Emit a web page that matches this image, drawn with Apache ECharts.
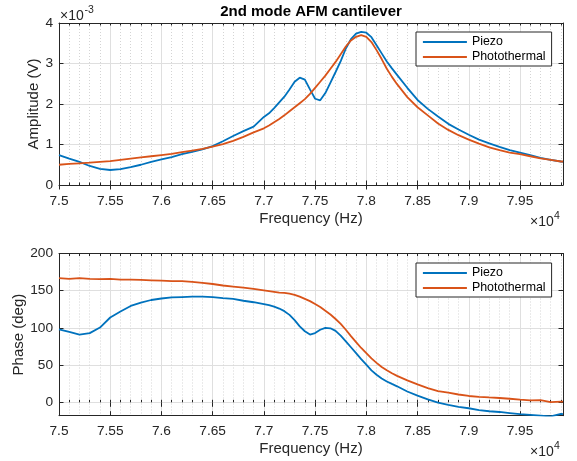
<!DOCTYPE html>
<html><head><meta charset="utf-8">
<script src="https://cdn.jsdelivr.net/npm/echarts@6/dist/echarts.min.js"></script>
<style>html,body{margin:0;padding:0;background:#fff}#c{width:577px;height:461px}</style>
</head><body><div id="c"></div>
<script>
// ---- data (frequency in Hz) ----
const freq = [75000,75100,75200,75300,75400,75500,75600,75700,75800,75900,76000,76100,76200,76300,76400,76500,76600,76700,76800,76900,77000,
  77050,77100,77150,77200,77250,77300,77350,77400,77450,77500,77550,77600,77650,77700,77750,77800,77850,77900,77950,78000,78050,78100,78150,78200,78250,78300,
  78400,78500,78600,78700,78800,78900,79000,79100,79200,79300,79400,79500,79600,79700,79800,79900,79920];
// amplitude in units of 1e-3 V
const ampPiezo = [0.74,0.65,0.57,0.47,0.40,0.37,0.39,0.44,0.50,0.57,0.63,0.69,0.76,0.82,0.88,0.96,1.08,1.21,1.33,1.44,1.68,
  1.77,1.90,2.04,2.18,2.36,2.55,2.65,2.60,2.36,2.13,2.09,2.27,2.53,2.79,3.06,3.37,3.60,3.74,3.78,3.76,3.65,3.45,3.25,3.05,2.88,2.72,
  2.40,2.10,1.88,1.69,1.51,1.37,1.24,1.12,1.03,0.94,0.86,0.80,0.74,0.67,0.62,0.58,0.57];
const ampPhoto = [0.50,0.52,0.535,0.55,0.57,0.59,0.62,0.65,0.68,0.71,0.74,0.77,0.81,0.85,0.89,0.95,1.01,1.09,1.19,1.30,1.40,
  1.47,1.55,1.63,1.72,1.82,1.92,2.02,2.12,2.25,2.40,2.55,2.70,2.87,3.04,3.23,3.42,3.57,3.66,3.70,3.66,3.53,3.33,3.11,2.87,2.67,2.49,
  2.17,1.92,1.72,1.52,1.36,1.23,1.12,1.02,0.93,0.86,0.80,0.76,0.71,0.66,0.62,0.58,0.58];
// phase in degrees
const phasePiezo = [98,94.5,91,93,100.5,114,122,129.5,134,137.5,139.5,141,141.5,142,142,141.5,140,139,136.5,134.5,132,
  130.5,128.5,126,122.5,117.5,110.5,102,95.5,91,93,97.5,100,99.5,96,89.5,82,74,66,58,50.5,43,37,32,28,24.7,21.5,
  14.5,9,4,-0.5,-3.5,-6,-8,-10.5,-12,-13,-14.5,-16,-17,-18,-19,-15.5,-16];
const phasePhoto = [167,166,167,166,165.5,166,165,165,164.5,164,163.5,163,163,162,160.5,159,157,155.5,154,152.5,150.5,
  149.5,148.5,147.5,147,146,144.5,142,139,136,132,128,123,118,112,105.5,97.5,89,81,73,66,59,53,47.5,43,39,35.5,
  29.5,24,19,15,13,10.5,8.5,7.3,6.5,5.8,4.8,3.5,2.5,2.8,0.3,1,1];
const seriesNames = ['Piezo','Photothermal'];
const xTicks = [75000,75500,76000,76500,77000,77500,78000,78500,79000,79500];
const ampTicks = [0,1,2,3,4];
const phaseTicks = [0,50,100,150,200];
const titleText = '2nd mode AFM cantilever';
const xName = 'Frequency (Hz)';
const ampName = 'Amplitude (V)';
const phaseName = 'Phase (deg)';

// ---- style ----
const FONT = '"Liberation Sans", Arial, Helvetica, sans-serif';
const AX = '#262626';
const GMAJ = '#dfdfdf';
const GMIN = '#d4d4d4';
const BLUE = '#0072BD', ORANGE = '#D95319';
const LW = 1.8;
const XMIN = 75000, XMAX = 79920;

function pairs(xs, ys){ return xs.map((x,i)=>[x, ys[i]]); }

function xAxesFor(g){
  return [
    { gridIndex:g, type:'value', min:XMIN, max:XMAX, interval:100, position:'bottom',
      axisLine:{show:false}, axisLabel:{show:false},
      axisTick:{show:true, inside:true, length:2.5, lineStyle:{color:AX, width:1}},
      splitLine:{show:true, lineStyle:{color:GMIN, width:1, type:[1,2]}} },
    { gridIndex:g, type:'value', min:XMIN, max:XMAX, interval:100, position:'top',
      axisLine:{show:true, onZero:false, lineStyle:{color:AX, width:1}}, axisLabel:{show:false},
      axisTick:{show:true, inside:true, length:2.5, lineStyle:{color:AX, width:1}},
      splitLine:{show:false} },
    { gridIndex:g, type:'value', min:XMIN, max:XMAX, interval:500, position:'bottom',
      name:xName, nameLocation:'middle', nameGap:26, nameMoveOverlap:false,
      nameTextStyle:{fontFamily:FONT, fontSize:15, color:AX},
      axisLine:{show:true, onZero:false, lineStyle:{color:AX, width:1}},
      axisLabel:{show:true, customValues:xTicks, margin:9, fontFamily:FONT, fontSize:13.7, color:AX,
        formatter:v=>String(+(v/1e4).toFixed(3))},
      axisTick:{show:true, inside:true, length:4.5, customValues:xTicks, lineStyle:{color:AX, width:1}},
      splitLine:{show:true, lineStyle:{color:GMAJ, width:1}} },
    { gridIndex:g, type:'value', min:XMIN, max:XMAX, interval:500, position:'top',
      axisLine:{show:false}, axisLabel:{show:false},
      axisTick:{show:true, inside:true, length:4.5, customValues:xTicks, lineStyle:{color:AX, width:1}},
      splitLine:{show:false} }
  ];
}
function yAxesFor(g, mn, mx, ticks, name, gap){
  return [
    { gridIndex:g, type:'value', min:mn, max:mx, position:'left',
      name:name, nameLocation:'middle', nameGap:gap, nameMoveOverlap:false,
      nameTextStyle:{fontFamily:FONT, fontSize:15, color:AX},
      axisLine:{show:true, onZero:false, lineStyle:{color:AX, width:1}},
      axisLabel:{show:true, customValues:ticks, margin:6, fontFamily:FONT, fontSize:13.7, color:AX},
      axisTick:{show:true, inside:true, length:4.5, customValues:ticks, lineStyle:{color:AX, width:1}},
      splitLine:{show:true, lineStyle:{color:GMAJ, width:1}} },
    { gridIndex:g, type:'value', min:mn, max:mx, position:'right',
      axisLine:{show:true, onZero:false, lineStyle:{color:AX, width:1}},
      axisLabel:{show:false},
      axisTick:{show:true, inside:true, length:4.5, customValues:ticks, lineStyle:{color:AX, width:1}},
      splitLine:{show:false} }
  ];
}
function legendAt(top){
  return { data:seriesNames, orient:'vertical', left:416, top:top,
    itemWidth:44, itemHeight:14, itemGap:3, padding:[4,6,3,6],
    borderColor:AX, borderWidth:1, backgroundColor:'#fff', borderRadius:0,
    itemStyle:{opacity:0, borderWidth:0}, lineStyle:{width:LW},
    selectedMode:false, textStyle:{fontFamily:FONT, fontSize:12.4, color:'#000'} };
}
function line(name, xi, yi, data, color){
  return { type:'line', name:name, xAxisIndex:xi, yAxisIndex:yi, data:data,
    symbol:'none', showSymbol:false, lineStyle:{color:color, width:LW}, itemStyle:{color:color},
    emphasis:{disabled:true}, animation:false };
}

const chart = echarts.init(document.getElementById('c'), null, {renderer:'canvas'});
chart.setOption({
  animation:false,
  backgroundColor:'#fff',
  grid:[{left:59, top:23, width:504, height:162},{left:59, top:253.5, width:504, height:162.2}],
  xAxis:[...xAxesFor(0), ...xAxesFor(1)],
  yAxis:[...yAxesFor(0, 0, 4, ampTicks, ampName, 18), ...yAxesFor(1, -18, 200, phaseTicks, phaseName, 33)],
  legend:[legendAt(32), legendAt(263)],
  series:[
    line(seriesNames[0], 2, 0, pairs(freq, ampPiezo), BLUE),
    line(seriesNames[1], 2, 0, pairs(freq, ampPhoto), ORANGE),
    line(seriesNames[0], 6, 2, pairs(freq, phasePiezo), BLUE),
    line(seriesNames[1], 6, 2, pairs(freq, phasePhoto), ORANGE)
  ],
  graphic:[
    {type:'text', x:311, y:12, style:{text:titleText, font:'bold 15px '+FONT, fill:'#000', align:'center', verticalAlign:'middle'}},
    {type:'text', x:60, y:16, style:{text:'×10', font:'14px '+FONT, fill:AX, align:'left', verticalAlign:'middle'}},
    {type:'text', x:84.5, y:10, style:{text:'-3', font:'10.5px '+FONT, fill:AX, align:'left', verticalAlign:'middle'}},
    {type:'text', x:530, y:222.3, style:{text:'×10', font:'14px '+FONT, fill:AX, align:'left', verticalAlign:'middle'}},
    {type:'text', x:554, y:216.5, style:{text:'4', font:'10.5px '+FONT, fill:AX, align:'left', verticalAlign:'middle'}},
    {type:'text', x:530, y:451.7, style:{text:'×10', font:'14px '+FONT, fill:AX, align:'left', verticalAlign:'middle'}},
    {type:'text', x:554, y:446, style:{text:'4', font:'10.5px '+FONT, fill:AX, align:'left', verticalAlign:'middle'}}
  ]
});
</script></body></html>
